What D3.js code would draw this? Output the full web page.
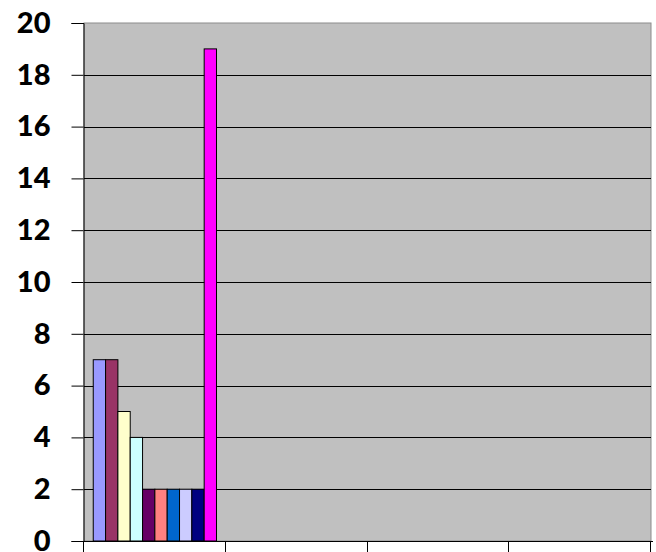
<!DOCTYPE html>
<html>
<head>
<meta charset="utf-8">
<script src="https://cdn.jsdelivr.net/npm/d3@7"></script>
<style>
  html, body { margin: 0; padding: 0; background: #ffffff; }
  svg { display: block; }
</style>
</head>
<body>
<svg id="chart" width="656" height="552"></svg>
<script>
// Categories along the x axis (unlabelled on the chart)
const categories = ["Cat 1", "Cat 2", "Cat 3", "Cat 4"];

// Series names and fill colours
const seriesNames = ["S1", "S2", "S3", "S4", "S5", "S6", "S7", "S8", "S9", "S10"];
const seriesColors = ["#9999FF", "#993366", "#FFFFCC", "#CCFFFF", "#660066",
                      "#FF8080", "#0066CC", "#CCCCFF", "#000080", "#FF00FF"];

// Values of each series in the first category; the other categories are empty
const firstCategoryValues = [7, 7, 5, 4, 2, 2, 2, 2, 2, 19];

// Y axis ticks
const yTicks = [0, 2, 4, 6, 8, 10, 12, 14, 16, 18, 20];

const rows = categories.map((c, i) => ({
  category: c,
  values: seriesNames.map((s, j) => ({
    series: s,
    value: i === 0 ? firstCategoryValues[j] : null
  }))
}));

const svg = d3.select("#chart");
const plot = { left: 84, right: 651, top: 23, bottom: 541 };

const x = d3.scaleBand().domain(categories).range([plot.left, plot.right]).paddingInner(0).paddingOuter(0);
const x1 = d3.scaleBand().domain(seriesNames).range([0, x.bandwidth()]).paddingInner(0).paddingOuter(0.75);
const y = d3.scaleLinear().domain([0, 20]).range([plot.bottom, plot.top]);
const color = d3.scaleOrdinal().domain(seriesNames).range(seriesColors);

// Plot area background
svg.append("rect")
  .attr("x", plot.left).attr("y", plot.top)
  .attr("width", plot.right - plot.left).attr("height", plot.bottom - plot.top)
  .attr("fill", "#C0C0C0")
  .attr("stroke", "#8c8c8c").attr("stroke-width", 1);

// Horizontal gridlines
svg.append("g")
  .selectAll("line")
  .data(yTicks.filter(t => t > 0 && t < 20))
  .join("line")
  .attr("x1", plot.left).attr("x2", plot.right)
  .attr("y1", d => Math.round(y(d)) + 0.5).attr("y2", d => Math.round(y(d)) + 0.5)
  .attr("stroke", "#000").attr("stroke-width", 1);

// Bars
svg.append("g")
  .selectAll("g")
  .data(rows)
  .join("g")
  .attr("transform", d => `translate(${x(d.category)},0)`)
  .selectAll("rect")
  .data(d => d.values.filter(v => v.value != null))
  .join("rect")
  .attr("x", d => x1(d.series))
  .attr("y", d => y(d.value))
  .attr("width", x1.bandwidth())
  .attr("height", d => y(0) - y(d.value))
  .attr("fill", d => color(d.series))
  .attr("stroke", "#000").attr("stroke-width", 1);

// Y axis
const yAxis = svg.append("g")
  .attr("transform", `translate(${plot.left - 0.5},0)`)
  .call(d3.axisLeft(y).tickValues(yTicks).tickSize(12).tickPadding(21).tickFormat(d3.format("d")));
yAxis.select(".domain").attr("stroke", "#000");
yAxis.selectAll(".tick line").attr("stroke", "#000");
yAxis.selectAll("text")
  .attr("font-family", "Lato, 'Liberation Sans', Arial, sans-serif")
  .attr("font-weight", 900)
  .attr("font-size", 29)
  .attr("fill", "#000");

// X axis line with tick marks at category boundaries
const xg = svg.append("g");
xg.append("line")
  .attr("x1", plot.left).attr("x2", plot.right + 2)
  .attr("y1", plot.bottom + 0.5).attr("y2", plot.bottom + 0.5)
  .attr("stroke", "#000");
const boundaries = categories.map(c => x(c)).concat([x(categories[categories.length - 1]) + x.bandwidth()]);
xg.selectAll("line.tick")
  .data(boundaries)
  .join("line")
  .attr("class", "tick")
  .attr("x1", d => Math.round(d) - 0.5).attr("x2", d => Math.round(d) - 0.5)
  .attr("y1", plot.bottom).attr("y2", plot.bottom + 12)
  .attr("stroke", "#000");
</script>
</body>
</html>
